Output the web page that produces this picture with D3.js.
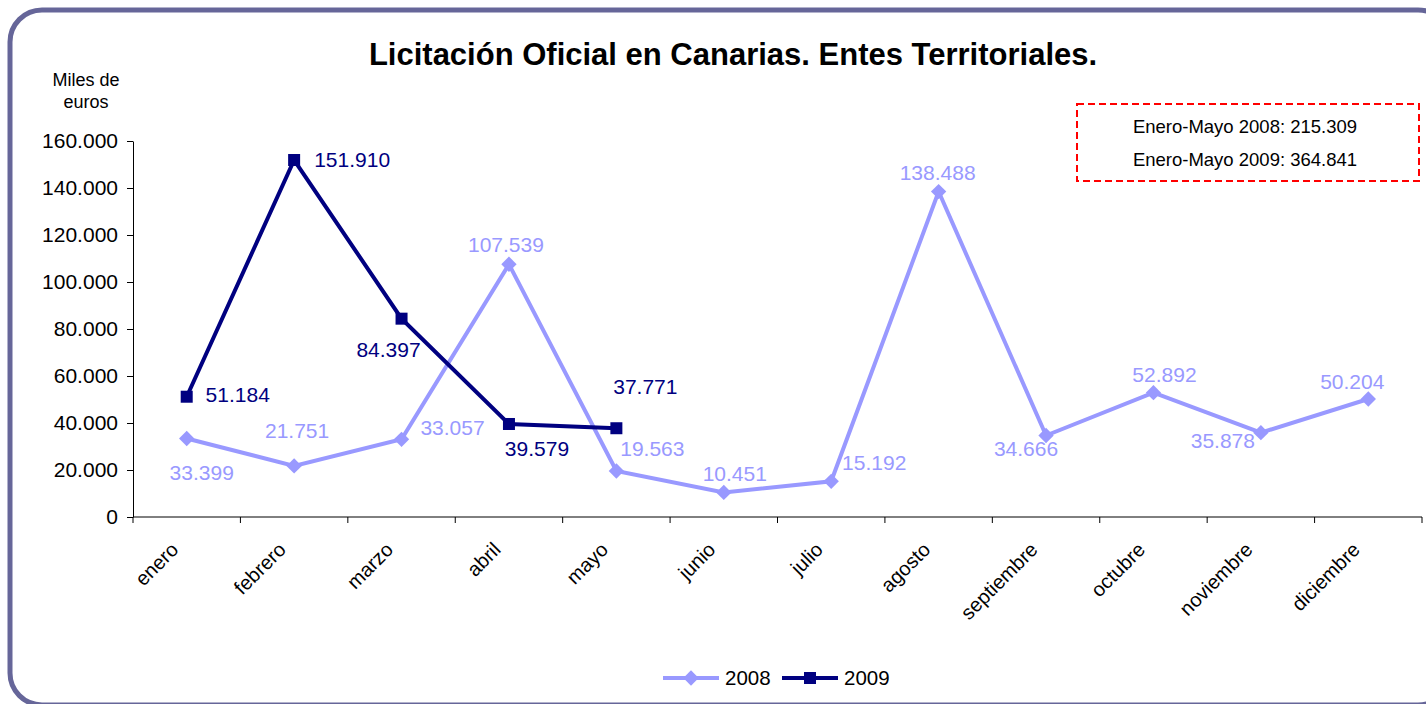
<!DOCTYPE html>
<html>
<head>
<meta charset="utf-8">
<script src="https://cdn.jsdelivr.net/npm/d3@7"></script>
<style>
  body { margin: 0; background: #fff; }
  svg { display: block; font-family: Arial, "Liberation Sans", sans-serif; }
</style>
</head>
<body>
<svg width="1426" height="704"></svg>
<script>
// data (miles de euros)
var months = ["enero", "febrero", "marzo", "abril", "mayo", "junio", "julio",
              "agosto", "septiembre", "octubre", "noviembre", "diciembre"];
var values2008 = [33399, 21751, 33057, 107539, 19563, 10451, 15192, 138488, 34666, 52892, 35878, 50204];
var values2009 = [51184, 151910, 84397, 39579, 37771];
var yTicks = [0, 20000, 40000, 60000, 80000, 100000, 120000, 140000, 160000];
var boxLines = ["Enero-Mayo 2008: 215.309", "Enero-Mayo 2009: 364.841"];

// where each data label sits relative to its point: [dx, dy]
var labelPos2008 = [[15, 34], [3, -35], [51, -12], [-3, -20], [36, -22], [11, -19],
                    [43, -19], [-1, -19], [-20, 13], [11, -18], [-38, 8], [-16, -17]];
var labelPos2009 = [[51, -2], [58, 0], [-13, 31], [28, 25], [29, -42]];

var svg = d3.select("svg"),
    margin = {top: 141, left: 133, right: 4, bottom: 187},
    width = +svg.attr("width") - margin.left - margin.right,
    height = +svg.attr("height") - margin.top - margin.bottom;

var fmt = function(v) { return d3.format(",")(v).replace(/,/g, "."); };
var c2008 = "#9999ff", c2009 = "#000080";

// rounded frame
svg.append("rect")
    .attr("x", 10).attr("y", 10)
    .attr("width", 1440).attr("height", 695)
    .attr("rx", 32).attr("ry", 32)
    .attr("fill", "none")
    .attr("stroke", "#666699")
    .attr("stroke-width", 5);

svg.append("text")
    .attr("x", 733).attr("y", 65)
    .attr("text-anchor", "middle")
    .style("font-size", "31px").style("font-weight", "bold")
    .text("Licitación Oficial en Canarias. Entes Territoriales.");

svg.append("text")
    .attr("x", 86).attr("y", 86)
    .attr("text-anchor", "middle")
    .style("font-size", "18px")
    .text("Miles de");
svg.append("text")
    .attr("x", 86).attr("y", 108)
    .attr("text-anchor", "middle")
    .style("font-size", "18px")
    .text("euros");

var x = d3.scaleBand().domain(months).range([0, width]),
    y = d3.scaleLinear().domain([0, 160000]).range([height, 0]);

var g = svg.append("g")
    .attr("transform", "translate(" + margin.left + "," + margin.top + ")");

// y axis
var yAxis = g.append("g")
    .call(d3.axisLeft(y).tickValues(yTicks).tickFormat(fmt).tickSize(6).tickSizeOuter(0));
yAxis.select(".domain").attr("stroke", "#000");
yAxis.selectAll("text").style("font-size", "21px").style("font-family", "Arial, 'Liberation Sans', sans-serif")
    .attr("fill", "#000").attr("x", -15);

// x axis, ticks on category boundaries
var xAxis = g.append("g")
    .attr("transform", "translate(0," + height + ")");
xAxis.append("line")
    .attr("x1", 0).attr("x2", width)
    .attr("stroke", "#000");
xAxis.selectAll(".tk")
    .data(months.concat(["_end"]))
    .enter().append("line")
    .attr("x1", function(d, i) { return i * x.bandwidth(); })
    .attr("x2", function(d, i) { return i * x.bandwidth(); })
    .attr("y1", 0).attr("y2", 6)
    .attr("stroke", "#000");
xAxis.selectAll(".lbl")
    .data(months)
    .enter().append("text")
    .attr("transform", function(d) {
      return "translate(" + (x(d) + x.bandwidth() / 2 - 12) + ",29) rotate(-45)";
    })
    .attr("text-anchor", "end")
    .attr("dy", "0.35em")
    .style("font-size", "20px")
    .text(function(d) { return d; });

var cx = function(i) { return x(months[i]) + x.bandwidth() / 2; };
var line = d3.line()
    .x(function(d, i) { return cx(i); })
    .y(function(d) { return y(d); });

// 2008
g.append("path")
    .datum(values2008)
    .attr("d", line)
    .attr("fill", "none")
    .attr("stroke", c2008)
    .attr("stroke-width", 4);
g.selectAll(".m2008")
    .data(values2008)
    .enter().append("path")
    .attr("d", d3.symbol().type(d3.symbolDiamond2).size(150))
    .attr("transform", function(d, i) { return "translate(" + cx(i) + "," + y(d) + ")"; })
    .attr("fill", c2008);

// 2009
g.append("path")
    .datum(values2009)
    .attr("d", line)
    .attr("fill", "none")
    .attr("stroke", c2009)
    .attr("stroke-width", 4);
g.selectAll(".m2009")
    .data(values2009)
    .enter().append("rect")
    .attr("x", function(d, i) { return cx(i) - 6; })
    .attr("y", function(d) { return y(d) - 6; })
    .attr("width", 12).attr("height", 12)
    .attr("fill", c2009);

// data labels
g.selectAll(".l2008")
    .data(values2008)
    .enter().append("text")
    .attr("x", function(d, i) { return cx(i) + labelPos2008[i][0]; })
    .attr("y", function(d, i) { return y(d) + labelPos2008[i][1]; })
    .attr("text-anchor", "middle")
    .attr("dy", "0.35em")
    .style("font-size", "21px")
    .attr("fill", c2008)
    .text(fmt);
g.selectAll(".l2009")
    .data(values2009)
    .enter().append("text")
    .attr("x", function(d, i) { return cx(i) + labelPos2009[i][0]; })
    .attr("y", function(d, i) { return y(d) + labelPos2009[i][1]; })
    .attr("text-anchor", "middle")
    .attr("dy", "0.35em")
    .style("font-size", "21px")
    .attr("fill", c2009)
    .text(fmt);

// summary box
svg.append("rect")
    .attr("x", 1077).attr("y", 104)
    .attr("width", 342).attr("height", 77)
    .attr("fill", "#fff")
    .attr("stroke", "#ff0000")
    .attr("stroke-width", 2)
    .attr("stroke-dasharray", "7,4");
svg.selectAll(".bx")
    .data(boxLines)
    .enter().append("text")
    .attr("x", 1245)
    .attr("y", function(d, i) { return 133 + i * 33; })
    .attr("text-anchor", "middle")
    .style("font-size", "18.5px")
    .text(function(d) { return d; });

// legend
var legend = [{name: "2008", color: c2008, shape: "diamond", x: 663},
              {name: "2009", color: c2009, shape: "square", x: 782}];
var lg = svg.selectAll(".lg").data(legend).enter().append("g")
    .attr("transform", function(d) { return "translate(" + d.x + ",678)"; });
lg.append("line")
    .attr("x1", 0).attr("x2", 56)
    .attr("stroke", function(d) { return d.color; })
    .attr("stroke-width", 4);
lg.each(function(d) {
  var s = d3.select(this);
  if (d.shape === "diamond") {
    s.append("path")
      .attr("d", d3.symbol().type(d3.symbolDiamond2).size(150))
      .attr("transform", "translate(28,0)")
      .attr("fill", d.color);
  } else {
    s.append("rect")
      .attr("x", 22).attr("y", -6).attr("width", 12).attr("height", 12)
      .attr("fill", d.color);
  }
});
lg.append("text")
    .attr("x", 62)
    .attr("dy", "0.35em")
    .style("font-size", "20.5px")
    .text(function(d) { return d.name; });
</script>
</body>
</html>
